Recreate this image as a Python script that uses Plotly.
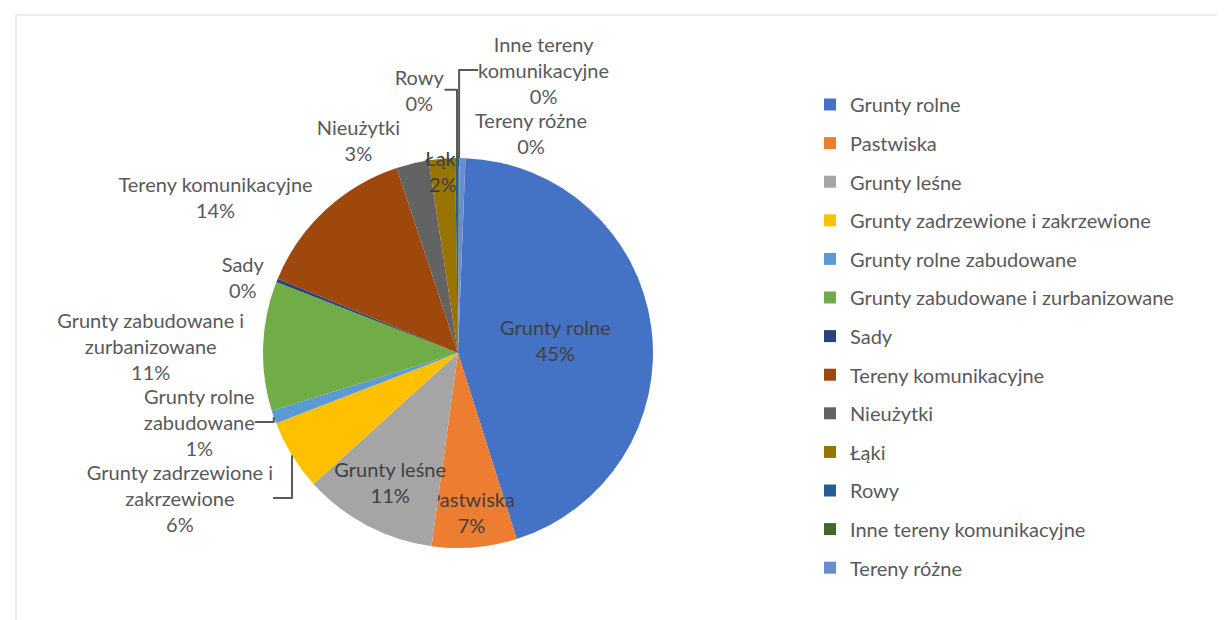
import plotly.graph_objects as go

categories = [
    "Grunty rolne", "Pastwiska", "Grunty leśne", "Grunty zadrzewione i zakrzewione",
    "Grunty rolne zabudowane", "Grunty zabudowane i zurbanizowane", "Sady",
    "Tereny komunikacyjne", "Nieużytki", "Łąki", "Rowy",
    "Inne tereny komunikacyjne", "Tereny różne",
]
display_labels = [
    "Grunty rolne", "Pastwiska", "Grunty leśne", "Grunty zadrzewione i<br>zakrzewione",
    "Grunty rolne<br>zabudowane", "Grunty zabudowane i<br>zurbanizowane", "Sady",
    "Tereny komunikacyjne", "Nieużytki", "Łąki", "Rowy",
    "Inne tereny<br>komunikacyjne", "Tereny różne",
]
values = [44.9, 7.1, 11.2, 5.9, 1.1, 10.8, 0.3, 13.8, 2.7, 2.2, 0.3, 0.05, 0.5]
text_positions = ["inside", "inside", "inside", "outside", "outside", "outside", "outside",
                  "outside", "outside", "inside", "outside", "outside", "outside"]
colors = ["#4472C4", "#ED7D31", "#A5A5A5", "#FFC000", "#5B9BD5", "#70AD47", "#264478",
          "#9E480E", "#636363", "#997300", "#255E91", "#43682B", "#698ED0"]

FONT = "Lato"
FS = 20
W, H = 1225, 620

fig = go.Figure()
fig.add_trace(go.Pie(
    labels=categories,
    values=values,
    text=display_labels,
    texttemplate="%{text}<br>%{percent:.0%}",
    textposition=text_positions,
    insidetextorientation="horizontal",
    sort=False,
    direction="clockwise",
    rotation=2.2,
    automargin=False,
    marker=dict(colors=colors, line=dict(width=0)),
    insidetextfont=dict(family=FONT, size=FS, color="#404040"),
    outsidetextfont=dict(family=FONT, size=FS, color="#595959"),
    domain=dict(x=[255 / W, 645 / W], y=[1 - 540 / H, 1 - 150 / H]),
    hoverinfo="label+percent",
    showlegend=False,
))

# legend entries (one per category, same colours as slices)
for name, col in zip(categories, colors):
    fig.add_trace(go.Scatter(
        x=[None], y=[None], mode="markers", name=name, legendgroup=name,
        marker=dict(symbol="square", size=12, color=col),
        hoverinfo="skip",
    ))

fig.update_layout(
    width=W, height=H,
    margin=dict(l=0, r=0, t=0, b=0),
    paper_bgcolor="white",
    plot_bgcolor="white",
    font=dict(family=FONT, size=FS, color="#595959"),
    showlegend=True,
    xaxis=dict(visible=False),
    yaxis=dict(visible=False),
    uniformtext=dict(minsize=FS, mode="show"),
    legend=dict(
        x=802 / W, y=1 - 77 / H, xanchor="left", yanchor="top",
        font=dict(family=FONT, size=FS, color="#595959"),
        bgcolor="rgba(0,0,0,0)",
        tracegroupgap=9.6,
        itemclick=False, itemdoubleclick=False,
    ),
    shapes=[dict(type="rect", xref="paper", yref="paper",
                 x0=8 / W, x1=1.0, y0=0, y1=1 - 7 / H,
                 line=dict(color="#D9D9D9", width=1))],
)

fig.write_html("out.html")
